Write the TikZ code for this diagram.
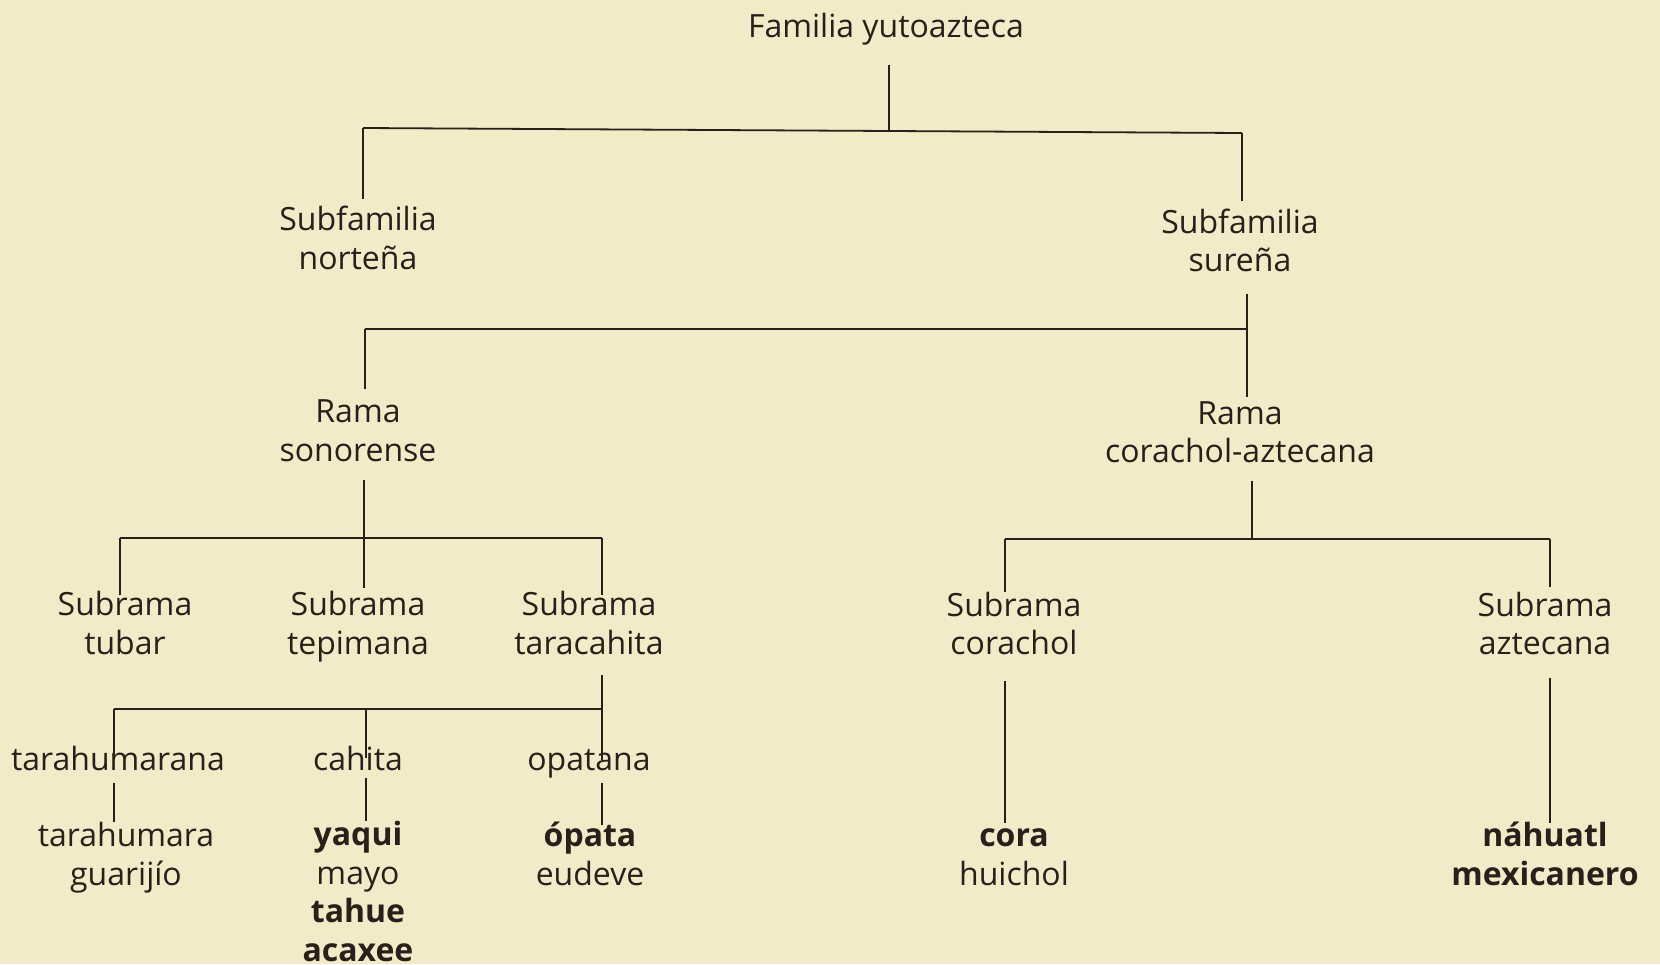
\documentclass[tikz,border=0pt]{standalone}
\usepackage{fontspec}
\setmainfont{Open Sans}
\definecolor{paper}{HTML}{F3EAC8}
\definecolor{ink}{HTML}{2A1F1B}
\tikzset{
  lbl/.style={align=center, inner sep=0pt, text=ink, font=\fontsize{16}{19.25}\selectfont},
  conn/.style={draw=ink, line width=0.9pt},
}
\begin{document}
\begin{tikzpicture}[x=0.5pt, y=-0.5pt]
\fill[paper] (0,0) rectangle (1660,964);
\useasboundingbox (0,0) rectangle (1660,964);

% nodes
\node[lbl] (root) at (886,29.3) {\strut Familia yutoazteca};
\node[lbl] (norte) at (358,242.3) {\strut Subfamilia\\\strut norteña};
\node[lbl] (sur) at (1240,244.8) {\strut Subfamilia\\\strut sureña};
\node[lbl] (sono) at (358,434.3) {\strut Rama\\\strut sonorense};
\node[lbl] (coraz) at (1240,435.8) {\strut Rama\\\strut corachol-aztecana};
\node[lbl] (tubar) at (125,627.3) {\strut Subrama\\\strut tubar};
\node[lbl] (tepim) at (358,627.3) {\strut Subrama\\\strut tepimana};
\node[lbl] (tarac) at (589,627.3) {\strut Subrama\\\strut taracahita};
\node[lbl] (corsub) at (1014,627.8) {\strut Subrama\\\strut corachol};
\node[lbl] (aztsub) at (1545,627.8) {\strut Subrama\\\strut aztecana};
\node[lbl] (tarahum) at (118,762.3) {\strut tarahumarana};
\node[lbl] (cahita) at (358,762.3) {\strut cahita};
\node[lbl] (opatana) at (589,762.3) {\strut opatana};
\node[lbl] (leafA) at (126,858.3) {\strut tarahumara\\\strut guarijío};
\node[lbl] (leafB) at (358,890.0) {\strut\textbf{yaqui}\\\strut mayo\\\strut\textbf{tahue}\\\textbf{acaxee}};
\node[lbl] (leafC) at (590,858.3) {\strut\textbf{ópata}\\\strut eudeve};
\node[lbl] (leafD) at (1014,858.3) {\strut\textbf{cora}\\\strut huichol};
\node[lbl] (leafE) at (1545,858.3) {\strut\textbf{náhuatl}\\\strut\textbf{mexicanero}};

% junctions
\coordinate (j0L) at (363,128);
\coordinate (j0) at (889,131);
\coordinate (j0R) at (1242,133);
\coordinate (j1L) at (365,329);
\coordinate (j1R) at (1247,329);
\coordinate (j2L) at (120,538);
\coordinate (j2M) at (364,538);
\coordinate (j2R) at (602,538);
\coordinate (j3L) at (1005,539);
\coordinate (j3M) at (1252,539);
\coordinate (j3R) at (1550,539);
\coordinate (j4L) at (114,709);
\coordinate (j4M) at (366,709);
\coordinate (j4R) at (602,709);

% root
\draw[conn, shorten <=8pt] (root.south -| j0) -- (j0);
\draw[conn] (j0L) -- (j0R);
\draw[conn, shorten >=2.25pt] (j0L) -- (j0L |- norte.north);
\draw[conn, shorten >=2.25pt] (j0R) -- (j0R |- sur.north);

% subfamilia sureña
\draw[conn, shorten <=5pt] (sur.south -| j1R) -- (j1R);
\draw[conn] (j1L) -- (j1R);
\draw[conn, shorten >=3.25pt] (j1L) -- (j1L |- sono.north);
\draw[conn, shorten >=-0.25pt] (j1R) -- (j1R |- coraz.north);

% rama sonorense
\draw[conn, shorten <=3.5pt] (sono.south -| j2M) -- (j2M);
\draw[conn] (j2L) -- (j2R);
\draw[conn, shorten >=-3.25pt] (j2L) -- (j2L |- tubar.north);
\draw[conn, shorten >=0.25pt] (j2M) -- (j2M |- tepim.north);
\draw[conn, shorten >=-3.25pt] (j2R) -- (j2R |- tarac.north);

% rama corachol-aztecana
\draw[conn, shorten <=3pt] (coraz.south -| j3M) -- (j3M);
\draw[conn] (j3L) -- (j3R);
\draw[conn, shorten >=-1.75pt] (j3L) -- (j3L |- corsub.north);
\draw[conn, shorten >=0.75pt] (j3R) -- (j3R |- aztsub.north);

% subrama taracahita
\draw[conn, shorten <=4.5pt] (tarac.south -| j4R) -- (j4R);
\draw[conn] (j4L) -- (j4R);
\draw[conn, shorten >=-7.25pt] (j4L) -- (j4L |- tarahum.north);
\draw[conn, shorten >=-7.75pt] (j4M) -- (j4M |- cahita.north);
\draw[conn, shorten >=-8.75pt] (j4R) -- (j4R |- opatana.north);

% to leaves
\draw[conn, shorten <=0.5pt, shorten >=-1.25pt] (tarahum.south -| j4L) -- (j4L |- leafA.north);
\draw[conn, shorten <=-2pt, shorten >=-1.25pt] (cahita.south -| j4M) -- (j4M |- leafB.north);
\draw[conn, shorten <=0.5pt, shorten >=-2.75pt] (opatana.south -| j4R) -- (j4R |- leafC.north);
\draw[conn, shorten <=7pt, shorten >=-1.75pt] (corsub.south -| j3L) -- (j3L |- leafD.north);
\draw[conn, shorten <=5.5pt, shorten >=-1.75pt] (aztsub.south -| j3R) -- (j3R |- leafE.north);
\end{tikzpicture}
\end{document}
